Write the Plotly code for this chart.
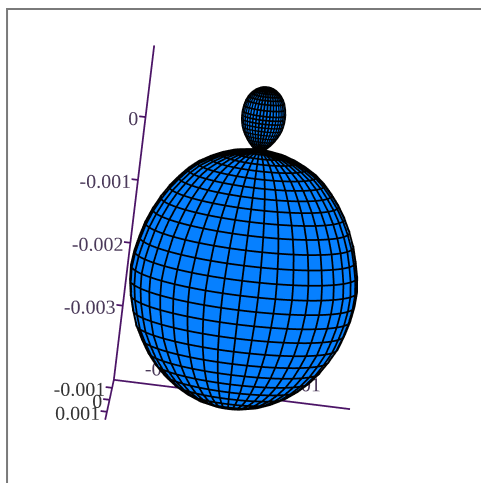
"""Two-lobed orbital surface with boxed corner axes."""

import numpy as np
import plotly.graph_objects as go

BIG_R = [0.0, 0.11, 0.20, 0.35, 0.48, 0.61, 0.74, 0.85, 0.95, 1.05, 1.14, 1.22, 1.29, 1.34, 1.38,
         1.40, 1.39, 1.36, 1.31, 1.25, 1.16, 1.065, 0.955, 0.83, 0.695, 0.54, 0.39, 0.20, 0.0]
BIG_Z = [0.0, -0.01, -0.03, -0.07, -0.13, -0.21, -0.31, -0.43, -0.57, -0.73, -0.91, -1.11, -1.33, -1.56, -1.79,
         -2.02, -2.25, -2.48, -2.71, -2.93, -3.14, -3.33, -3.50, -3.65, -3.78, -3.89, -3.97, -4.03, -4.05]
SMALL_R = [0.0, 0.03, 0.07, 0.105, 0.14, 0.17, 0.20, 0.225, 0.243, 0.255, 0.262, 0.265,
           0.265, 0.255, 0.236, 0.213, 0.186, 0.155, 0.125, 0.08, 0.057, 0.0]
SMALL_Z = [0.0, 0.02, 0.05, 0.09, 0.14, 0.19, 0.25, 0.31, 0.37, 0.43, 0.49, 0.55,
           0.61, 0.70, 0.79, 0.85, 0.90, 0.94, 0.97, 1.0, 1.01, 1.02]
BIG_CENTER = -2.0
SMALL_CENTER = 0.53

X_RANGE = [-1.48, 1.48]
Y_RANGE = [1.67, -1.67]  # far end first, the picture's y runs toward the viewer
Z_RANGE = [-4.18, 1.14]

X_LABEL_POS = [-0.8, 0.8]
X_LABELS = ["-0.001", "0.001"]
Y_TICKS = [1, 0, -1]
Y_LABELS = ["-0.001", "0", "0.001"]
Z_TICKS = [0, -1, -2, -3]
Z_LABELS = ["0", "-0.001", "-0.002", "-0.003"]

N_MERIDIANS = 40
STEPS_PER_MERIDIAN = 3
BLUE = "#0680ff"
AXIS_COLOR = "#4b1466"
LABEL_FONT = dict(family="Liberation Serif", size=20, color="#4b3a5a")
Y_LABEL_FONT = dict(family="Liberation Serif", size=20, color="#333333")


def revolve(radius, height):
    angle = np.linspace(0, 2 * np.pi, N_MERIDIANS * STEPS_PER_MERIDIAN + 1)
    r = np.array(radius)[:, None]
    return r * np.cos(angle), r * np.sin(angle), np.array(height)[:, None] * np.ones_like(angle)


def grid_lines(x, y, z, center):
    # rings and meridians, joined in a single trace with None gaps
    # pushed out a little so they do not fight the surface in the depth buffer
    x, y, z = x * 1.012, y * 1.012, (z - center) * 1.012 + center
    xs, ys, zs = [], [], []
    for a, b, c in zip(x, y, z):
        xs += list(a) + [None]
        ys += list(b) + [None]
        zs += list(c) + [None]
    for a, b, c in zip(x.T[::STEPS_PER_MERIDIAN], y.T[::STEPS_PER_MERIDIAN], z.T[::STEPS_PER_MERIDIAN]):
        xs += list(a) + [None]
        ys += list(b) + [None]
        zs += list(c) + [None]
    return xs, ys, zs


fig = go.Figure()

for radius, height, center in [(BIG_R, BIG_Z, BIG_CENTER), (SMALL_R, SMALL_Z, SMALL_CENTER)]:
    x, y, z = revolve(radius, height)
    fig.add_trace(go.Surface(
        x=x, y=y, z=z,
        surfacecolor=np.zeros_like(z),
        cmin=0, cmax=1,
        colorscale=[[0, BLUE], [1, BLUE]],
        showscale=False,
        hoverinfo="skip",
        lighting=dict(ambient=1, diffuse=0, specular=0, fresnel=0, roughness=1),
    ))
    xs, ys, zs = grid_lines(x, y, z, center)
    fig.add_trace(go.Scatter3d(
        x=xs, y=ys, z=zs, mode="lines",
        line=dict(color="#000000", width=3.5),
        hoverinfo="skip",
    ))

# corner axes
corner_x, corner_y, corner_z = X_RANGE[0], Y_RANGE[0], Z_RANGE[0]
axis_x = [X_RANGE[0], X_RANGE[1], None, corner_x, corner_x, None, corner_x, corner_x]
axis_y = [corner_y, corner_y, None, Y_RANGE[0], Y_RANGE[1], None, corner_y, corner_y]
axis_z = [corner_z, corner_z, None, corner_z, corner_z, None, Z_RANGE[0], Z_RANGE[1]]
for t in Z_TICKS:
    axis_x += [None, corner_x, corner_x - 0.08]
    axis_y += [None, corner_y, corner_y]
    axis_z += [None, t, t]
for t in Y_TICKS:
    axis_x += [None, corner_x, corner_x - 0.08]
    axis_y += [None, t, t]
    axis_z += [None, corner_z, corner_z]
fig.add_trace(go.Scatter3d(
    x=axis_x, y=axis_y, z=axis_z, mode="lines",
    line=dict(color=AXIS_COLOR, width=3.5),
    hoverinfo="skip",
))

fig.add_trace(go.Scatter3d(
    x=[corner_x + 0.15] * len(Z_TICKS), y=[corner_y] * len(Z_TICKS), z=Z_TICKS,
    mode="text", text=Z_LABELS, textposition="middle left", textfont=LABEL_FONT,
    hoverinfo="skip",
))
fig.add_trace(go.Scatter3d(
    x=[corner_x + 0.15] * len(Y_TICKS), y=Y_TICKS, z=[corner_z] * len(Y_TICKS),
    mode="text", text=Y_LABELS, textposition="middle left", textfont=Y_LABEL_FONT,
    hoverinfo="skip",
))
fig.add_trace(go.Scatter3d(
    x=X_LABEL_POS, y=[corner_y] * len(X_LABEL_POS), z=[corner_z + 0.28] * len(X_LABEL_POS),
    mode="text", text=X_LABELS, textposition="middle center", textfont=LABEL_FONT,
    hoverinfo="skip",
))

hidden_axis = dict(
    visible=False, showgrid=False, zeroline=False, showline=False,
    showticklabels=False, showbackground=False, showspikes=False, title="",
)
view_dir = np.array([0.0176, -0.998, 0.193])
center = np.array([0.004, 0, -0.009])
eye = view_dir * 3.1 + center

fig.update_layout(
    # scene stays 481x483 and sits 8px in from the window corner
    width=489, height=491,
    margin=dict(l=8, r=0, t=8, b=0),
    paper_bgcolor="white",
    showlegend=False,
    shapes=[dict(
        type="rect", xref="paper", yref="paper",
        x0=-0.002, x1=1.1, y0=-0.1, y1=0.998,
        line=dict(color="#7a7a7a", width=2),
    )],
    scene=dict(
        # box is wider than the drawn axes so that their labels are not clipped
        xaxis=dict(hidden_axis, range=[-2.0, 2.0]),
        yaxis=dict(hidden_axis, range=[-2.0, 2.0]),
        zaxis=dict(hidden_axis, range=[-4.72, 1.68]),
        aspectmode="manual",
        aspectratio=dict(x=1.332, y=1.064, z=1.709),
        camera=dict(
            eye=dict(x=eye[0], y=eye[1], z=eye[2]),
            center=dict(x=center[0], y=center[1], z=center[2]),
            up=dict(x=-0.125, y=0.189, z=0.990),
            projection=dict(type="orthographic"),
        ),
        domain=dict(x=[0, 1], y=[0, 1]),
    ),
)

fig.write_html(
    "out.html",
    config=dict(displayModeBar=False),
    post_script="document.body.style.margin='0';document.body.style.overflow='hidden';",
)
